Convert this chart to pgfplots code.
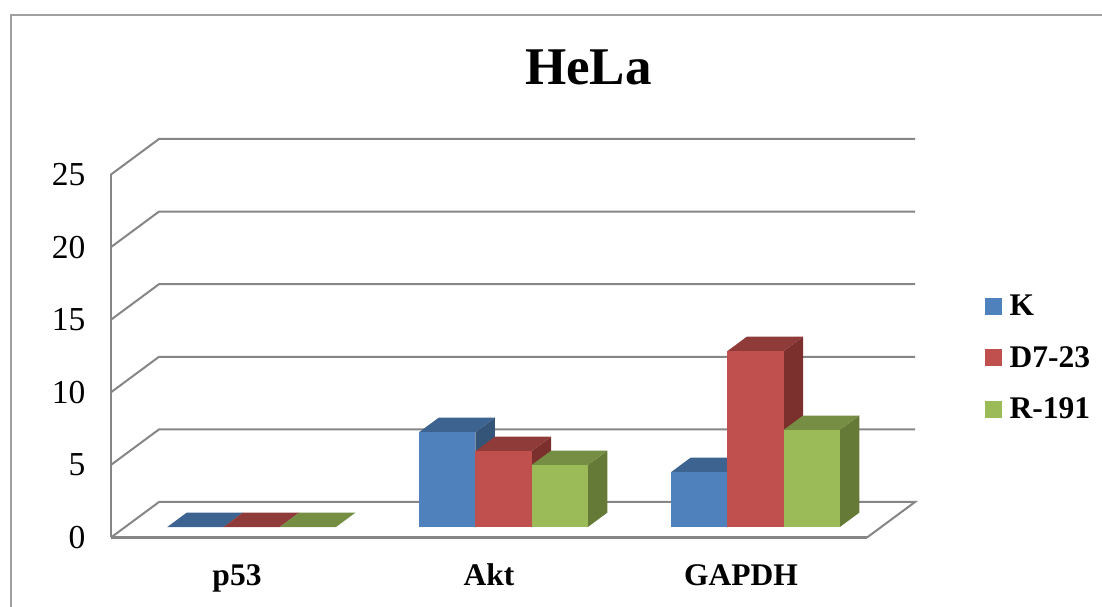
\documentclass[border=0pt]{standalone}
\usepackage{pgfplots}
\pgfplotsset{compat=1.18}
\usepackage{fontspec}
\setmainfont{Liberation Serif}
\definecolor{gridg}{HTML}{868686}
\definecolor{frameg}{HTML}{A0A0A0}
\definecolor{kf}{HTML}{4F81BD}\definecolor{kt}{HTML}{3D6391}\definecolor{ks}{HTML}{345478}
\definecolor{df}{HTML}{C0504D}\definecolor{dt}{HTML}{8F3B39}\definecolor{ds}{HTML}{7C302E}
\definecolor{rf}{HTML}{9BBB59}\definecolor{rt}{HTML}{758E43}\definecolor{rs}{HTML}{657A37}
% one bar: left x, right x, value, colour prefix
\newcommand\cube[4]{%
 \addplot3[no marks,draw=none,fill=#4s] coordinates {(#2,.296,0)(#2,.70,0)(#2,.70,#3)(#2,.296,#3)};
 \addplot3[no marks,draw=none,fill=#4t] coordinates {(#1,.296,#3)(#2,.296,#3)(#2,.70,#3)(#1,.70,#3)};
 \addplot3[no marks,draw=none,fill=#4f] coordinates {(#1,.296,0)(#2,.296,0)(#2,.296,#3)(#1,.296,#3)};
}
\newcommand\gridl[1]{%
 \addplot3[no marks,gridg,line width=2pt] coordinates {(0,0,#1)(0,1,#1)(3,1,#1)};
}
\begin{document}
\begin{tikzpicture}[x=1pt,y=1pt]
\useasboundingbox (0,0) rectangle (1102,607);
\draw[frameg,line width=2pt] (10.5,0) -- (10.5,592) -- (1102,592);
\node[font=\bfseries\fontsize{53}{60}\selectfont,anchor=center] at (588.5,540) {HeLa};
\begin{axis}[
  at={(111pt,69.5pt)},anchor=origin,hide axis,clip=false,
  x={(252pt,0pt)},y={(48pt,35.5pt)},z={(0pt,14.52pt)},
  xmin=0,xmax=3,ymin=0,ymax=1,zmin=0,zmax=25]
\gridl{5}\gridl{10}\gridl{15}\gridl{20}\gridl{25}
\addplot3[no marks,gridg,line width=2pt] coordinates {(0,0,0)(0,1,0)(3,1,0)(3,0,0)};
\cube{0.167}{0.390}{0}{k}
\cube{0.390}{0.613}{0}{d}
\cube{0.613}{0.836}{0}{r}
\cube{1.167}{1.390}{6.54}{k}
\cube{1.390}{1.613}{5.23}{d}
\cube{1.613}{1.836}{4.27}{r}
\cube{2.167}{2.390}{3.79}{k}
\cube{2.390}{2.613}{12.12}{d}
\cube{2.613}{2.836}{6.69}{r}
\end{axis}
\begin{axis}[
  at={(111pt,69.5pt)},anchor=south west,scale only axis,width=756pt,height=363pt,
  xmin=0,xmax=3,ymin=0,ymax=25,
  axis x line=bottom,axis y line=left,axis line style={-,gridg,line width=2.2pt},
  major tick length=0pt,
  xtick={0.5,1.5,2.5},xticklabels={p53,Akt,GAPDH},
  ytick={0,5,10,15,20,25},
  /pgf/number format/assume math mode=true,
  xticklabel style={font=\bfseries\fontsize{31.5}{36}\selectfont,yshift=-22pt,text height=22pt,text depth=6pt},
  yticklabel style={font=\fontsize{33.5}{38}\selectfont,xshift=-22pt},
  legend cell align=left,
  legend image code/.code={\fill[#1] (0pt,-8pt) rectangle (16pt,8pt);},
  legend style={at={(985pt-111pt,312pt-69.5pt)},anchor=north west,draw=none,fill=none,inner sep=0pt,
    font=\bfseries\fontsize{31.5}{36}\selectfont,row sep=29pt,column sep=8pt,
    nodes={inner sep=0pt,outer sep=0pt}},
]
\addlegendimage{kf}\addlegendentry{K}
\addlegendimage{df}\addlegendentry{D7-23}
\addlegendimage{rf}\addlegendentry{R-191}
\end{axis}
\end{tikzpicture}
\end{document}
